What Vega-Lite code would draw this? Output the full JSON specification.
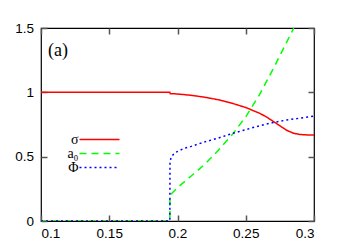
{
  "$schema": "https://vega.github.io/schema/vega-lite/v6.json",
  "width": 273,
  "height": 193,
  "autosize": {"type": "none"},
  "padding": {"left": 41, "top": 28, "right": 42, "bottom": 28},
  "config": {
    "view": {"stroke": "black", "strokeWidth": 1.2},
    "axis": {"labelFont": "Liberation Sans", "labelFontSize": 13.5, "labelColor": "black", "tickColor": "#555", "tickWidth": 1.5, "grid": false, "domain": false, "title": null}
  },
  "data": {"values": [
    {"s": "σ", "x": 0.1, "y": 1.0},
    {"s": "σ", "x": 0.1944, "y": 1.0},
    {"s": "σ", "x": 0.1946, "y": 0.99},
    {"s": "σ", "x": 0.2, "y": 0.987},
    {"s": "σ", "x": 0.21, "y": 0.977},
    {"s": "σ", "x": 0.22, "y": 0.962},
    {"s": "σ", "x": 0.23, "y": 0.942},
    {"s": "σ", "x": 0.24, "y": 0.915},
    {"s": "σ", "x": 0.25, "y": 0.882},
    {"s": "σ", "x": 0.26, "y": 0.838},
    {"s": "σ", "x": 0.265, "y": 0.81},
    {"s": "σ", "x": 0.27, "y": 0.775},
    {"s": "σ", "x": 0.275, "y": 0.74},
    {"s": "σ", "x": 0.28, "y": 0.705},
    {"s": "σ", "x": 0.285, "y": 0.682},
    {"s": "σ", "x": 0.29, "y": 0.672},
    {"s": "σ", "x": 0.295, "y": 0.669},
    {"s": "σ", "x": 0.3, "y": 0.668},
    {"s": "a₀", "x": 0.1, "y": 0},
    {"s": "a₀", "x": 0.1944, "y": 0},
    {"s": "a₀", "x": 0.1945, "y": 0.2},
    {"s": "a₀", "x": 0.2, "y": 0.26},
    {"s": "a₀", "x": 0.21, "y": 0.35},
    {"s": "a₀", "x": 0.22, "y": 0.44},
    {"s": "a₀", "x": 0.23, "y": 0.55},
    {"s": "a₀", "x": 0.24, "y": 0.67},
    {"s": "a₀", "x": 0.25, "y": 0.81},
    {"s": "a₀", "x": 0.26, "y": 0.98},
    {"s": "a₀", "x": 0.27, "y": 1.18},
    {"s": "a₀", "x": 0.28, "y": 1.39},
    {"s": "a₀", "x": 0.2852, "y": 1.5},
    {"s": "Φ", "x": 0.1, "y": 0},
    {"s": "Φ", "x": 0.1944, "y": 0},
    {"s": "Φ", "x": 0.1945, "y": 0.46},
    {"s": "Φ", "x": 0.1955, "y": 0.5},
    {"s": "Φ", "x": 0.198, "y": 0.53},
    {"s": "Φ", "x": 0.205, "y": 0.565},
    {"s": "Φ", "x": 0.21, "y": 0.58},
    {"s": "Φ", "x": 0.22, "y": 0.615},
    {"s": "Φ", "x": 0.23, "y": 0.645},
    {"s": "Φ", "x": 0.24, "y": 0.68},
    {"s": "Φ", "x": 0.25, "y": 0.71},
    {"s": "Φ", "x": 0.26, "y": 0.74},
    {"s": "Φ", "x": 0.27, "y": 0.765},
    {"s": "Φ", "x": 0.28, "y": 0.785},
    {"s": "Φ", "x": 0.29, "y": 0.8},
    {"s": "Φ", "x": 0.3, "y": 0.815}
  ]},
  "layer": [
    {
      "mark": {"type": "line", "strokeWidth": 1.5, "clip": true},
      "encoding": {
        "x": {"field": "x", "type": "quantitative", "scale": {"domain": [0.1, 0.3], "nice": false, "zero": false},
          "axis": {"orient": "bottom", "values": [0.1, 0.15, 0.2, 0.25, 0.3], "format": "~g", "tickSize": -6, "labelPadding": 11, "labelDx": 1, "minExtent": 23, "maxExtent": 23}},
        "y": {"field": "y", "type": "quantitative", "scale": {"domain": [0, 1.5], "nice": false},
          "axis": {"orient": "left", "values": [0, 0.5, 1, 1.5], "format": "~g", "tickSize": -6, "labelPadding": 13.5, "minExtent": 36, "maxExtent": 36}},
        "color": {"field": "s", "type": "nominal", "scale": {"domain": ["σ", "a₀", "Φ"], "range": ["#ff0000", "#00ff00", "#0000ff"]},
          "legend": {"title": null, "orient": "none", "legendX": 0, "legendY": 104.5, "symbolType": "M-4,0H4", "symbolSize": 100, "symbolStrokeWidth": 1.5, "symbolOffset": 51.5, "labelFont": "Liberation Serif", "labelFontSize": 14, "labelColor": "black", "labelAlign": "right", "labelOffset": -28, "rowPadding": -1.3, "padding": 0}},
        "strokeDash": {"field": "s", "type": "nominal", "scale": {"domain": ["σ", "a₀", "Φ"], "range": [[1, 0], [7, 5], [2, 3]]},
          "legend": {"title": null, "orient": "none", "legendX": 0, "legendY": 104.5, "symbolType": "M-4,0H4", "symbolSize": 100, "symbolStrokeWidth": 1.5, "symbolOffset": 51.5, "labelFont": "Liberation Serif", "labelFontSize": 14, "labelColor": "black", "labelAlign": "right", "labelOffset": -28, "rowPadding": -1.3, "padding": 0}}
      }
    },
    {
      "mark": {"type": "line", "opacity": 0},
      "encoding": {
        "x": {"field": "x", "type": "quantitative", "scale": {"domain": [0.1, 0.3], "nice": false, "zero": false},
          "axis": {"orient": "top", "values": [0.1, 0.15, 0.2, 0.25, 0.3], "labels": false, "tickSize": -6, "minExtent": 0, "maxExtent": 0}},
        "y": {"field": "y", "type": "quantitative", "scale": {"domain": [0, 1.5], "nice": false},
          "axis": {"orient": "right", "values": [0, 0.5, 1, 1.5], "labels": false, "tickSize": -6, "minExtent": 0, "maxExtent": 0}},
        "detail": {"field": "s"}
      }
    },
    {
      "data": {"values": [{"label": "(a)"}]},
      "mark": {"type": "text", "align": "left", "baseline": "alphabetic", "font": "Liberation Serif", "fontSize": 18, "fontWeight": "normal", "color": "black"},
      "encoding": {
        "text": {"field": "label"},
        "x": {"datum": 0.1051, "type": "quantitative", "axis": null},
        "y": {"datum": 1.282, "type": "quantitative", "axis": null}
      }
    }
  ],
  "resolve": {"axis": {"x": "independent", "y": "independent"}}
}
